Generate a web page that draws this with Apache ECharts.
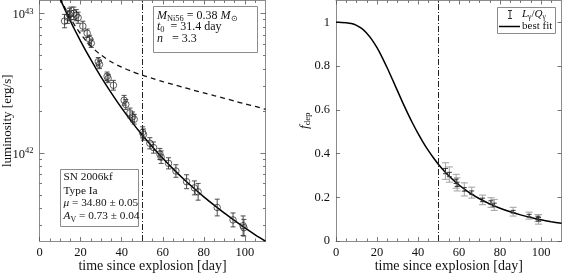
<!DOCTYPE html>
<html><head><meta charset="utf-8">
<script src="https://cdn.jsdelivr.net/npm/echarts@6/dist/echarts.min.js"></script>
<style>html,body{margin:0;padding:0;background:#fff}#c{width:562px;height:275px}</style>
</head><body><div id="c"></div>
<script>
// ---------------- data ----------------
const lumDay = [12.2, 13.6, 14.6, 15.3, 16.7, 17.9, 18.8, 21.1, 23.2, 24.4, 25.2, 28.6, 29.2, 32.9, 33.4, 36.0, 41.2, 42.0, 44.0, 45.3, 46.1, 50.2, 50.6, 53.7, 55.5, 58.6, 59.2, 62.8, 66.4, 71.6, 75.4, 77.2, 86.5, 94.2, 99.1, 99.5];
const lumVal = [8.8e42, 9.4e42, 9.8e42, 1.0e43, 1.0e43, 9.7e42, 9.3e42, 8.1e42, 7.2e42, 6.5e42, 6.1e42, 4.5e42, 4.3e42, 3.54e42, 3.41e42, 3.05e42, 2.38e42, 2.22e42, 1.93e42, 1.81e42, 1.74e42, 1.40e42, 1.35e42, 1.17e42, 1.09e42, 9.8e41, 9.3e41, 8.4e41, 7.4e41, 6.2e41, 5.6e41, 5.25e41, 4.05e41, 3.3e41, 3.0e41, 2.9e41];
const lumErrDex = [0.048, 0.045, 0.045, 0.045, 0.045, 0.04, 0.04, 0.035, 0.03, 0.03, 0.03, 0.03, 0.03, 0.03, 0.03, 0.035, 0.035, 0.035, 0.035, 0.035, 0.035, 0.04, 0.04, 0.04, 0.04, 0.04, 0.045, 0.04, 0.045, 0.05, 0.05, 0.06, 0.06, 0.05, 0.07, 0.06];

const fdepDay = [53.4, 55.3, 58.6, 59.1, 62.6, 66.2, 71.5, 75.6, 77.2, 86.4, 94.2, 98.5, 98.8];
const fdepVal = [0.32, 0.304, 0.273, 0.259, 0.236, 0.221, 0.188, 0.176, 0.165, 0.134, 0.116, 0.105, 0.099];
const fdepErrSys = [0.038, 0.035, 0.032, 0.03, 0.03, 0.025, 0.022, 0.022, 0.025, 0.02, 0.016, 0.016, 0.022];
const fdepErrStat = [0.012, 0.01, 0.01, 0.01, 0.008, 0.008, 0.008, 0.008, 0.008, 0.006, 0.006, 0.008, 0.008];

const fitDay = [10, 12.5, 15, 17.5, 20, 22.5, 25, 27.5, 30, 35, 40, 45, 50, 55, 60, 65, 70, 75, 80, 85, 90, 95, 100, 105, 110];
const fitLum = [1.273e43, 1.055e43, 8.82e42, 7.44e42, 6.32e42, 5.40e42, 4.65e42, 4.02e42, 3.49e42, 2.68e42, 2.09e42, 1.66e42, 1.34e42, 1.10e42, 9.13e41, 7.67e41, 6.52e41, 5.59e41, 4.83e41, 4.21e41, 3.69e41, 3.26e41, 2.89e41, 2.58e41, 2.32e41];
const decayLum = [1.29e43, 1.085e43, 9.27e42, 8.06e42, 7.13e42, 6.40e42, 5.83e42, 5.38e42, 5.02e42, 4.48e42, 4.11e42, 3.83e42, 3.60e42, 3.41e42, 3.24e42, 3.09e42, 2.95e42, 2.81e42, 2.69e42, 2.57e42, 2.46e42, 2.35e42, 2.24e42, 2.15e42, 2.05e42];

const fdepCurveDay = [0, 2.5, 5, 7.5, 10, 12.5, 15, 17.5, 20, 22.5, 25, 27.5, 30, 32.5, 35, 37.5, 40, 42.5, 45, 47.5, 50, 55, 60, 65, 70, 75, 80, 85, 90, 95, 100, 105, 110];
const fdepCurve = [1, 0.9999, 0.9986, 0.9947, 0.9864, 0.9721, 0.9505, 0.9211, 0.884, 0.8401, 0.7913, 0.7395, 0.6865, 0.6342, 0.5838, 0.5362, 0.492, 0.4514, 0.4144, 0.3809, 0.3504, 0.2983, 0.256, 0.2214, 0.1931, 0.1696, 0.15, 0.1335, 0.1195, 0.1076, 0.0973, 0.0885, 0.0807];

const fitStartDay = 50;
const dayMin = 0, dayMax = 110;
const lumMin = 2.33e41, lumMax = 1.236e43;
const fdepMin = 0, fdepMax = 1.1;

const dayMajorTicks = [0, 20, 40, 60, 80, 100];
const dayMinorTicks = [5, 10, 15, 25, 30, 35, 45, 50, 55, 65, 70, 75, 85, 90, 95, 105];
const lumMajorTicks = [1e42, 1e43];
const lumMinorTicks = [3e41, 4e41, 5e41, 6e41, 7e41, 8e41, 9e41, 2e42, 3e42, 4e42, 5e42, 6e42, 7e42, 8e42, 9e42];
const fdepMajorTicks = [0, 0.2, 0.4, 0.6, 0.8, 1];

// ---------------- styling ----------------
const FONT = 'Liberation Serif';
const frameColor = '#8c8c8c';
const tickColor = '#555';
const textColor = '#111';

function axisBase(extra) {
  return Object.assign({
    splitLine: { show: false },
    axisLine: { show: false },
    axisTick: { show: false },
    axisLabel: { show: false }
  }, extra);
}
function decoAxis(type, gridIndex, position, min, max, ticks, len, opts) {
  opts = opts || {};
  const a = axisBase({
    type: type, gridIndex: gridIndex, position: position, min: min, max: max,
    axisLine: { show: !!opts.line, onZero: false, lineStyle: { color: frameColor, width: 1 } },
    axisTick: { show: true, inside: true, length: len, customValues: ticks, lineStyle: { color: tickColor, width: 0.8 } }
  });
  if (type === 'log') a.logBase = 10;
  if (opts.label) a.axisLabel = opts.label;
  if (opts.name) Object.assign(a, { nameMoveOverlap: false }, opts.name);
  return a;
}
const tickLabelStyle = { fontFamily: FONT, fontSize: 12.5, color: textColor, margin: 5 };

const xName = {
  name: 'time since explosion [day]', nameLocation: 'middle', nameGap: 18,
  nameTextStyle: { fontFamily: FONT, fontSize: 14, color: textColor }
};

const xAxes = [];
[0, 1].forEach(g => {
  xAxes.push(decoAxis('value', g, 'bottom', dayMin, dayMax, dayMajorTicks, 4, {
    line: true,
    label: Object.assign({ show: true, customValues: dayMajorTicks }, tickLabelStyle),
    name: xName
  }));
  xAxes.push(decoAxis('value', g, 'bottom', dayMin, dayMax, dayMinorTicks, 2.5));
  xAxes.push(decoAxis('value', g, 'top', dayMin, dayMax, dayMajorTicks, 4, { line: true }));
  xAxes.push(decoAxis('value', g, 'top', dayMin, dayMax, dayMinorTicks, 2.5));
});

const yAxes = [
  decoAxis('log', 0, 'left', lumMin, lumMax, lumMajorTicks, 5, {
    line: true,
    label: {
      show: true, customValues: lumMajorTicks, fontFamily: FONT, fontSize: 12.5, color: textColor, margin: 6, lineHeight: 16,
      padding: [3, 0, 0, 0],
      formatter: v => '10{sup|' + Math.round(Math.log10(v)) + '}',
      rich: { sup: { fontFamily: FONT, fontSize: 8.5, lineHeight: 9, verticalAlign: 'top', color: textColor } }
    },
    name: { name: 'luminosity [erg/s]', nameLocation: 'middle', nameGap: 25, nameTextStyle: { fontFamily: FONT, fontSize: 13, color: textColor } }
  }),
  decoAxis('log', 0, 'left', lumMin, lumMax, lumMinorTicks, 2.5),
  decoAxis('log', 0, 'right', lumMin, lumMax, lumMajorTicks, 5, { line: true }),
  decoAxis('log', 0, 'right', lumMin, lumMax, lumMinorTicks, 2.5),
  decoAxis('value', 1, 'left', fdepMin, fdepMax, fdepMajorTicks, 4, {
    line: true,
    label: Object.assign({ show: true, customValues: fdepMajorTicks, formatter: v => String(v) }, tickLabelStyle, { margin: 6 }),
    name: {
      name: '{i|f}{s|dep}', nameLocation: 'middle', nameGap: 24,
      nameTextStyle: {
        fontFamily: FONT, fontSize: 13.5, color: textColor, lineHeight: 15,
        rich: {
          i: { fontFamily: FONT, fontSize: 13.5, fontStyle: 'italic', color: textColor, lineHeight: 15 },
          s: { fontFamily: FONT, fontSize: 9, color: textColor, lineHeight: 8, verticalAlign: 'bottom' }
        }
      }
    }
  }),
  decoAxis('value', 1, 'right', fdepMin, fdepMax, fdepMajorTicks, 4, { line: true })
];

// ---------------- series ----------------
function errBarRender(color, width, cap) {
  return function (params, api) {
    const x = api.value(0);
    const p1 = api.coord([x, api.value(1)]);
    const p2 = api.coord([x, api.value(2)]);
    const st = { stroke: color, lineWidth: width };
    return {
      type: 'group', children: [
        { type: 'line', shape: { x1: p1[0], y1: p1[1], x2: p2[0], y2: p2[1] }, style: st },
        { type: 'line', shape: { x1: p1[0] - cap, y1: p1[1], x2: p1[0] + cap, y2: p1[1] }, style: st },
        { type: 'line', shape: { x1: p2[0] - cap, y1: p2[1], x2: p2[0] + cap, y2: p2[1] }, style: st }
      ]
    };
  };
}

const lumBars = lumDay.map((d, i) => [d, lumVal[i] / Math.pow(10, lumErrDex[i]), lumVal[i] * Math.pow(10, lumErrDex[i])]);
const lumPts = lumDay.map((d, i) => [d, lumVal[i]]);
const fdepSys = fdepDay.map((d, i) => [d, fdepVal[i] - fdepErrSys[i], fdepVal[i] + fdepErrSys[i]]);
const fdepStat = fdepDay.map((d, i) => [d, fdepVal[i] - fdepErrStat[i], fdepVal[i] + fdepErrStat[i]]);

const vline = {
  symbol: 'none', silent: true, label: { show: false },
  lineStyle: { color: '#222', width: 1, type: [6, 2, 1, 2] },
  data: [{ xAxis: fitStartDay }]
};

const series = [
  { type: 'line', xAxisIndex: 0, yAxisIndex: 0, data: decayLum.map((v, i) => [fitDay[i], v]), showSymbol: false, smooth: 0.3,
    lineStyle: { color: '#111', width: 1.3, type: [5, 4] }, z: 2, markLine: vline },
  { type: 'line', xAxisIndex: 0, yAxisIndex: 0, data: fitLum.map((v, i) => [fitDay[i], v]), showSymbol: false, smooth: 0.3,
    lineStyle: { color: '#000', width: 1.5 }, z: 3 },
  { type: 'custom', xAxisIndex: 0, yAxisIndex: 0, renderItem: errBarRender('#3a3a3a', 0.9, 2.5), data: lumBars, z: 4,
    encode: { x: 0, y: [1, 2] } },
  { type: 'scatter', xAxisIndex: 0, yAxisIndex: 0, data: lumPts, symbol: 'circle', symbolSize: 6.5,
    itemStyle: { color: 'rgba(0,0,0,0)', borderColor: '#222', borderWidth: 0.9 }, z: 5 },

  { type: 'line', xAxisIndex: 4, yAxisIndex: 4, data: fdepCurve.map((v, i) => [fdepCurveDay[i], v]), showSymbol: false, smooth: 0.3,
    lineStyle: { color: '#000', width: 1.5 }, z: 3, markLine: vline },
  { type: 'custom', xAxisIndex: 4, yAxisIndex: 4, renderItem: errBarRender('#a8a8a8', 1.1, 3.5), data: fdepSys, z: 4,
    encode: { x: 0, y: [1, 2] } },
  { type: 'custom', xAxisIndex: 4, yAxisIndex: 4, renderItem: errBarRender('#222', 0.9, 2.5), data: fdepStat, z: 5,
    encode: { x: 0, y: [1, 2] } }
];

// ---------------- annotations ----------------
const txt = (x, y, text, rich, extra) => Object.assign({
  type: 'text', x: x, y: y, z: 100,
  style: Object.assign({ text: text, fontFamily: FONT, fontSize: 12, fill: textColor, verticalAlign: 'middle', lineHeight: 14, rich: rich || {} }, extra || {})
});
const mathRich = (fs) => ({
  i: { fontFamily: FONT, fontSize: fs, fontStyle: 'italic', fill: textColor, lineHeight: 14 },
  s: { fontFamily: FONT, fontSize: fs * 0.7, fill: textColor, lineHeight: 8, verticalAlign: 'bottom' }
});
const small = { fontSize: 11.3 };

const graphic = [
  { type: 'rect', z: 99, shape: { x: 153.5, y: 6.5, width: 104, height: 46 }, style: { fill: '#fff', stroke: frameColor, lineWidth: 1 } },
  txt(157, 15.5, '{i|M}{s|Ni56} = 0.38 {i|M}{s|⊙}', mathRich(12)),
  txt(157, 27, '{i|t}{s|0}  = 31.4 day', mathRich(12)),
  txt(157, 39, '{i|n}   = 3.3', mathRich(12)),

  { type: 'rect', z: 99, shape: { x: 60.5, y: 169.5, width: 78, height: 57 }, style: { fill: '#fff', stroke: frameColor, lineWidth: 1 } },
  txt(63.5, 177.5, 'SN 2006kf', null, small),
  txt(63.5, 191, 'Type Ia', null, small),
  txt(63.5, 203.5, '{i|μ} = 34.80 ± 0.05', mathRich(11.3), small),
  txt(63.5, 216.5, '{i|A}{s|V} = 0.73 ± 0.04', mathRich(11.3), small),

  { type: 'rect', z: 99, shape: { x: 497.5, y: 7.5, width: 58, height: 26 }, style: { fill: '#fff', stroke: frameColor, lineWidth: 1 } },
  { type: 'line', z: 100, shape: { x1: 510, y1: 10.5, x2: 510, y2: 18.5 }, style: { stroke: '#333', lineWidth: 1 } },
  { type: 'line', z: 100, shape: { x1: 508, y1: 10.5, x2: 512, y2: 10.5 }, style: { stroke: '#333', lineWidth: 1 } },
  { type: 'line', z: 100, shape: { x1: 508, y1: 18.5, x2: 512, y2: 18.5 }, style: { stroke: '#333', lineWidth: 1 } },
  txt(522, 14.5, '{i|L}{s|γ}/{i|Q}{s|γ}', {
    i: { fontFamily: FONT, fontSize: 11, fontStyle: 'italic', fill: textColor, lineHeight: 13 },
    s: { fontFamily: FONT, fontSize: 7.5, fill: textColor, lineHeight: 7, verticalAlign: 'bottom' }
  }, { fontSize: 11, lineHeight: 13 }),
  { type: 'line', z: 100, shape: { x1: 499, y1: 26.5, x2: 520, y2: 26.5 }, style: { stroke: '#000', lineWidth: 1.5 } },
  txt(522, 26.5, 'best fit', null, { fontSize: 11, lineHeight: 13 })
];

const chart = echarts.init(document.getElementById('c'), null, { renderer: 'canvas' });
chart.setOption({
  animation: false,
  backgroundColor: '#fff',
  textStyle: { fontFamily: FONT },
  grid: [
    { left: 39.5, top: 0.5, width: 226, height: 240.5, containLabel: false, outerBoundsMode: 'none' },
    { left: 336, top: 0.5, width: 225.5, height: 240.5, containLabel: false, outerBoundsMode: 'none' }
  ],
  xAxis: xAxes,
  yAxis: yAxes,
  series: series,
  graphic: graphic
});
</script>
</body></html>
